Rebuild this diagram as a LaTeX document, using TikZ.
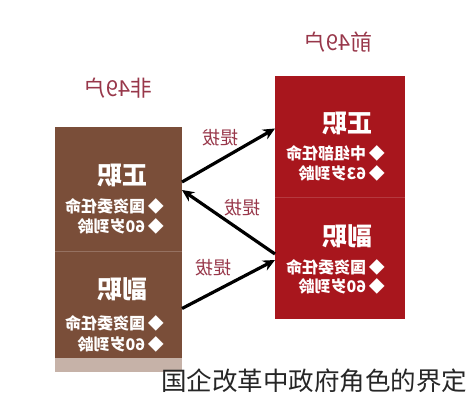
\documentclass[tikz,border=0pt]{standalone}
\usepackage{fontspec}
\usepackage{graphicx}
\setmainfont{Noto Sans CJK SC}
\usetikzlibrary{arrows.meta}
\definecolor{brownbox}{HTML}{7A4E39}
\definecolor{redbox}{HTML}{A8161D}
\definecolor{labelred}{HTML}{98374A}
\definecolor{strip}{HTML}{C6B2A8}
\tikzset{
  box/.style={draw=none, minimum width=#1, inner sep=0pt, outer sep=0pt},
  title/.style={font=\bfseries\fontsize{25}{25}\selectfont, text=white, inner sep=0pt},
  item/.style={font=\bfseries\fontsize{16}{16}\selectfont, text=white, inner sep=0pt, anchor=east},
  grouplabel/.style={font=\fontsize{22}{22}\selectfont, text=labelred, inner sep=0pt},
  arrowlabel/.style={font=\fontsize{18}{18}\selectfont, text=labelred, inner sep=0pt},
  conn/.style={line width=3.2pt, -{Stealth[length=12pt,width=11pt]}},
}
\begin{document}
\begin{tikzpicture}[x=1pt,y=-1pt]
\fill[white] (0,0) rectangle (468,400);
\useasboundingbox (0,0) rectangle (468,400);
% boxes
\fill[strip] (55,358) rectangle (182,372);
\node[box=127pt, minimum height=124pt, fill=brownbox] (lt) at (118.5,189) {};
\node[box=127pt, minimum height=107pt, fill=brownbox] (lb) at (118.5,304.5) {};
\node[box=130pt, minimum height=121pt, fill=redbox] (rt) at (340,136.5) {};
\node[box=130pt, minimum height=122pt, fill=redbox] (rb) at (340,258) {};
\draw[brownbox!80!white, line width=0.8pt] (lt.south west) -- (lt.south east);
\draw[redbox!85!white, line width=0.8pt] (rt.south west) -- (rt.south east);
% group labels
\node[grouplabel] (g1) at (118,88) {\reflectbox{非49户}};
\node[grouplabel] (g2) at (338,42) {\reflectbox{前49户}};
% box texts
\node[title] (t1) at (122,175) {\reflectbox{正职}};
\node[item] (t1a) at (164,206) {\reflectbox{◆\,国资委任命}};
\node[item] (t1b) at (164,226) {\reflectbox{◆\,60岁到龄}};
\node[title] (t2) at (122,289) {\reflectbox{副职}};
\node[item] (t2a) at (164,323) {\reflectbox{◆\,国资委任命}};
\node[item] (t2b) at (164,344) {\reflectbox{◆\,60岁到龄}};
\node[title] (t3) at (347,123) {\reflectbox{正职}};
\node[item] (t3a) at (385,153) {\reflectbox{◆\,中组部任命}};
\node[item] (t3b) at (385,173) {\reflectbox{◆\,63岁到龄}};
\node[title] (t4) at (347,236) {\reflectbox{副职}};
\node[item] (t4a) at (385,267) {\reflectbox{◆\,国资委任命}};
\node[item] (t4b) at (385,286) {\reflectbox{◆\,60岁到龄}};
% connectors
\draw[conn] ([yshift=7pt]lt.east) -- ([yshift=8pt]rt.west);
\draw[conn] ([yshift=4pt]rb.west) -- ([yshift=-1pt]lt.east);
\draw[conn] ([yshift=-4pt]lb.east) -- ([yshift=-2pt]rb.west);
\node[arrowlabel] (l1) at (220,138) {\reflectbox{提拔}};
\node[arrowlabel] (l2) at (242,208) {\reflectbox{提拔}};
\node[arrowlabel] (l3) at (213,268) {\reflectbox{提拔}};
% caption
\node[font=\fontsize{25.5}{25.5}\selectfont, text=black!85, inner sep=0pt, anchor=west] (cap) at (161,381) {国企改革中政府角色的界定};
\end{tikzpicture}
\end{document}
